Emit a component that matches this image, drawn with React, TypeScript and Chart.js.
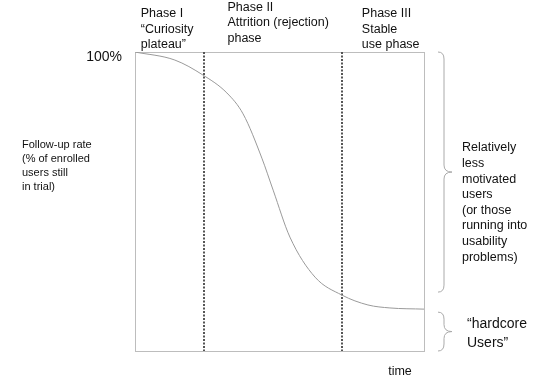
import React, { useEffect, useRef } from "react";
import { Chart, registerables } from "chart.js";

Chart.register(...registerables);

// ---- data ----
const timePoints = [0, 13.8, 23.5, 31.8, 37.4, 43.9, 47.8, 53.6, 62.3, 71.6, 80.6, 88.2, 100];
const followUpRate = [100, 97.3, 92.3, 86.3, 79.3, 64.5, 53.8, 38.1, 24.7, 18.7, 15.4, 14.4, 14.0];
const phaseBoundaries = [23.9, 71.6];
const phaseStarts = [2, 32, 78.5];
const phaseLabels = [
  ["Phase I", "\u201cCuriosity", "plateau\u201d"],
  ["Phase II", "Attrition (rejection)", "phase"],
  ["Phase III", "Stable", "use phase"],
];
const yTickLabel = "100%";
const yTitle = ["Follow-up rate", "(% of enrolled", "users still", "in trial)"];
const xTitle = "time";
const upperBraceRange = [100, 19.7];
const lowerBraceRange = [13, 0];
const upperBraceLabel = ["Relatively", "less", "motivated", "users", "(or those", "running into", "usability", "problems)"];
const lowerBraceLabel = ["\u201chardcore", "Users\u201d"];

const FONT = "'Liberation Sans', Arial, Helvetica, sans-serif";

function drawBrace(ctx: CanvasRenderingContext2D, x0: number, y0: number, y1: number) {
  const xs = x0 + 6;
  const xt = x0 + 14;
  const r = 7;
  const ym = (y0 + y1) / 2;
  ctx.beginPath();
  ctx.moveTo(x0, y0);
  ctx.quadraticCurveTo(xs, y0, xs, y0 + r);
  ctx.lineTo(xs, ym - r);
  ctx.quadraticCurveTo(xs, ym, xt, ym);
  ctx.quadraticCurveTo(xs, ym, xs, ym + r);
  ctx.lineTo(xs, y1 - r);
  ctx.quadraticCurveTo(xs, y1, x0, y1);
  ctx.stroke();
}

const decorPlugin = {
  id: "decor",
  beforeDatasetsDraw(chart: any) {
    const { ctx, chartArea, scales } = chart;
    const { left, top, right, bottom } = chartArea;
    ctx.save();
    ctx.strokeStyle = "#bdbdbd";
    ctx.lineWidth = 1;
    ctx.strokeRect(left + 0.5, top + 0.5, right - left, bottom - top);
    ctx.strokeStyle = "#555";
    ctx.lineWidth = 2;
    ctx.setLineDash([2, 1.5]);
    for (const b of phaseBoundaries) {
      const x = Math.round(scales.x.getPixelForValue(b));
      ctx.beginPath();
      ctx.moveTo(x, top);
      ctx.lineTo(x, bottom);
      ctx.stroke();
    }
    ctx.restore();
  },
  afterDraw(chart: any) {
    const { ctx, chartArea, scales } = chart;
    const { left, top, right, bottom } = chartArea;
    ctx.save();
    ctx.fillStyle = "#111";
    ctx.textBaseline = "middle";
    // phase labels
    ctx.font = `12.5px ${FONT}`;
    ctx.textAlign = "left";
    const phaseTops = [14, 7.5, 14];
    phaseLabels.forEach((lines, i) => {
      const x = scales.x.getPixelForValue(phaseStarts[i]);
      lines.forEach((t, j) => ctx.fillText(t, x, phaseTops[i] + j * 15.5));
    });
    // 100% tick
    ctx.font = `14px ${FONT}`;
    ctx.textAlign = "right";
    ctx.fillText(yTickLabel, left - 13, scales.y.getPixelForValue(100) + 5);
    // y title
    ctx.font = `11px ${FONT}`;
    ctx.textAlign = "left";
    yTitle.forEach((t, j) => ctx.fillText(t, 22, 145 + j * 13.9));
    // x title
    ctx.font = `12.5px ${FONT}`;
    ctx.textAlign = "center";
    ctx.fillText(xTitle, 400, bottom + 21);
    // braces
    ctx.strokeStyle = "#aaa";
    ctx.lineWidth = 1;
    const bx = right + 14;
    drawBrace(ctx, bx, scales.y.getPixelForValue(upperBraceRange[0]), scales.y.getPixelForValue(upperBraceRange[1]));
    drawBrace(ctx, bx, scales.y.getPixelForValue(lowerBraceRange[0]), scales.y.getPixelForValue(lowerBraceRange[1]));
    ctx.textAlign = "left";
    ctx.font = `12.5px ${FONT}`;
    upperBraceLabel.forEach((t, j) => ctx.fillText(t, right + 38, 148 + j * 15.6));
    ctx.font = `14px ${FONT}`;
    lowerBraceLabel.forEach((t, j) => ctx.fillText(t, right + 43, 324 + j * 19));
    ctx.restore();
  },
};

export default function App() {
  const ref = useRef<HTMLCanvasElement>(null);
  useEffect(() => {
    if (!ref.current) return;
    const chart = new Chart(ref.current, {
      type: "line",
      data: {
        datasets: [
          {
            data: timePoints.map((x, i) => ({ x, y: followUpRate[i] })),
            borderColor: "#9a9a9a",
            borderWidth: 1,
            pointRadius: 0,
            cubicInterpolationMode: "monotone",
            fill: false,
          },
        ],
      },
      options: {
        responsive: false,
        animation: false,
        layout: { padding: { left: 135, top: 52, right: 127, bottom: 33 } },
        plugins: { legend: { display: false }, tooltip: { enabled: false } },
        scales: {
          x: { type: "linear", min: 0, max: 100, display: false },
          y: { type: "linear", min: 0, max: 100, display: false },
        },
      },
      plugins: [decorPlugin],
    } as any);
    return () => chart.destroy();
  }, []);
  return (
    <div style={{ position: "absolute", left: 0, top: 0, width: 551, height: 384, background: "#fff" }}>
      <canvas ref={ref} width={551} height={384} />
    </div>
  );
}
